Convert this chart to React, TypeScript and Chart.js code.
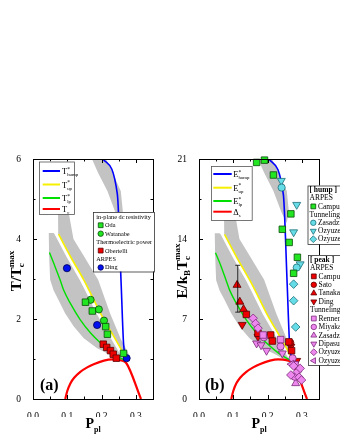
import React, { useEffect, useRef } from "react";
import { Chart, registerables } from "chart.js";
Chart.register(...registerables);

type XY = [number, number];

// ---------- axes ----------
const xTicks = [0, 0.1, 0.2, 0.3];
const xMinorTicks = [0.05, 0.15, 0.25];
const yTicksA = [0, 2, 4, 6];
const yMinorA = [1, 3, 5];
const yTicksB = [0, 7, 14, 21];
const yMinorB = [3.5, 10.5, 17.5];

// ---------- panel (a): T / Tc^max vs P_pl ----------
const tHumpA: XY[] = [[0.204, 6], [0.246, 5.12], [0.257, 2.9], [0.264, 1.4], [0.27, 1.03]];
const tUpA: XY[] = [[0.0745, 4.12], [0.11, 3.55], [0.148, 2.98], [0.163, 2.73], [0.197, 2.14], [0.236, 1.56], [0.261, 1.18], [0.27, 1.02]];
const tLpA: XY[] = [[0.048, 3.66], [0.062, 3.36], [0.079, 2.98], [0.089, 2.73], [0.109, 2.39], [0.138, 1.98], [0.168, 1.65], [0.197, 1.4], [0.23, 1.16], [0.255, 1.02], [0.27, 0.96]];
const tcA: XY[] = [[0.094, 0], [0.1, 0.2], [0.109, 0.39], [0.12, 0.53], [0.138, 0.68], [0.158, 0.79], [0.177, 0.87], [0.207, 0.96], [0.231, 0.99], [0.255, 0.97], [0.272, 0.9], [0.315, 0]];

const humpBandA: XY[] = [[0.172, 6], [0.213, 6], [0.235, 5.6], [0.256, 5.2], [0.262, 4.7], [0.256, 4.4], [0.241, 4.65], [0.217, 5.2], [0.19, 5.65]];
const upBandA: XY[] = [[0.073, 4.62], [0.0735, 4.12], [0.109, 3.55], [0.147, 2.98], [0.162, 2.73], [0.196, 2.14], [0.235, 1.56], [0.26, 1.18], [0.268, 0.98], [0.283, 0.95], [0.278, 1.15], [0.256, 1.5], [0.225, 2.14], [0.19, 2.98], [0.15, 3.55], [0.118, 4.0], [0.105, 4.62]];
const lpBandA: XY[] = [[0.046, 4.15], [0.047, 3.6], [0.05, 2.98], [0.06, 2.72], [0.074, 2.48], [0.094, 2.14], [0.119, 1.81], [0.148, 1.52], [0.187, 1.27], [0.226, 1.1], [0.262, 0.92], [0.275, 0.88], [0.262, 1.0], [0.25, 1.18], [0.224, 1.56], [0.185, 2.14], [0.151, 2.73], [0.136, 2.98], [0.098, 3.55], [0.063, 4.12], [0.06, 4.15]];

const odaA: XY[] = [[0.153, 2.42], [0.173, 2.2], [0.212, 1.81], [0.217, 1.62], [0.264, 1.14]];
const watanabeA: XY[] = [[0.168, 2.48], [0.192, 2.24], [0.207, 1.96]];
const obertelliA: XY[] = [[0.205, 1.37], [0.215, 1.29], [0.226, 1.21], [0.234, 1.12], [0.243, 1.02]];
const dingA: XY[] = [[0.099, 3.27], [0.187, 1.85], [0.273, 1.02]];

// ---------- panel (b): E / kB Tc^max vs P_pl ----------
const eHumpB: XY[] = [[0.204, 21], [0.246, 17.9], [0.257, 10.2], [0.264, 4.9], [0.27, 3.6]];
const eUpB: XY[] = [[0.0745, 14.4], [0.11, 12.4], [0.148, 10.4], [0.163, 9.55], [0.197, 7.5], [0.236, 5.46], [0.261, 4.13], [0.27, 3.57]];
const eLpB: XY[] = [[0.048, 12.8], [0.062, 11.8], [0.079, 10.4], [0.089, 9.55], [0.109, 8.37], [0.138, 6.93], [0.168, 5.78], [0.197, 4.9], [0.23, 4.06], [0.255, 3.57], [0.27, 3.36]];
const deltaB: XY[] = [[0.094, 0], [0.1, 0.7], [0.109, 1.37], [0.12, 1.86], [0.138, 2.38], [0.158, 2.77], [0.177, 3.05], [0.207, 3.36], [0.231, 3.47], [0.255, 3.4], [0.272, 3.15], [0.315, 0]];

const humpBandB: XY[] = [[0.172, 21], [0.213, 21], [0.235, 19.6], [0.256, 18.2], [0.262, 16.45], [0.256, 15.4], [0.241, 16.3], [0.217, 18.2], [0.19, 19.8]];
const upBandB: XY[] = [[0.073, 16.2], [0.0735, 14.4], [0.109, 12.4], [0.147, 10.43], [0.162, 9.55], [0.196, 7.5], [0.235, 5.46], [0.26, 4.13], [0.268, 3.43], [0.283, 3.33], [0.278, 4.0], [0.256, 5.25], [0.225, 7.5], [0.19, 10.43], [0.15, 12.43], [0.118, 14.0], [0.105, 16.2]];
const lpBandB: XY[] = [[0.046, 14.5], [0.047, 12.6], [0.05, 10.4], [0.06, 9.5], [0.074, 8.7], [0.094, 7.5], [0.119, 6.3], [0.148, 5.3], [0.187, 4.45], [0.226, 3.85], [0.262, 3.2], [0.275, 3.1], [0.262, 3.5], [0.25, 4.13], [0.224, 5.46], [0.185, 7.49], [0.151, 9.55], [0.136, 10.43], [0.098, 12.43], [0.063, 14.42], [0.06, 14.5]];

// hump (ARPES / tunneling)
const campHumpB: XY[] = [[0.168, 20.7], [0.191, 20.9], [0.217, 19.6], [0.243, 14.85], [0.263, 13.7], [0.268, 16.2], [0.287, 12.4], [0.276, 11.0]];
const zasHumpB: XY[] = [[0.241, 18.5], [0.285, 11.5]];
const ozyHumpTriB: XY[] = [[0.24, 19.1], [0.285, 17.0], [0.276, 14.6], [0.295, 11.8]];
const ozyHumpDiaB: XY[] = [[0.276, 10.05], [0.276, 8.6], [0.282, 6.3]];
// peak (ARPES / tunneling)
const campPeakB: XY[] = [[0.138, 7.4], [0.172, 5.75], [0.209, 5.6], [0.214, 5.07], [0.27, 4.23], [0.262, 5.0]];
const satoB: XY[] = [[0.266, 4.93]];
const tanakaB: XY[] = [[0.111, 9.97], [0.119, 8.5], [0.13, 7.85]];
const tanakaErrB: [number, number, number][] = [[0.113, 7.6, 11.7]];
const dingPeakB: XY[] = [[0.126, 6.5], [0.172, 5.45], [0.268, 4.6], [0.285, 3.35]];
const rennerB: XY[] = [[0.187, 5.6], [0.238, 5.2], [0.28, 3.0]];
const miyakawaB: XY[] = [[0.189, 5.4], [0.238, 4.6], [0.273, 3.56], [0.279, 1.95]];
const zasPeakB: XY[] = [[0.282, 1.37]];
const dipasupilB: XY[] = [[0.168, 4.87], [0.181, 4.72], [0.197, 4.23], [0.243, 4.0]];
const ozyPeakDiaB: XY[] = [[0.158, 7.06], [0.165, 6.6], [0.172, 6.2], [0.276, 2.89], [0.268, 2.1], [0.287, 2.39], [0.295, 2.68], [0.292, 1.9], [0.299, 1.66]];
const ozyPeakTriB: XY[] = [[0.27, 3.05]];

// ---------- styles ----------
const FONT = '"Liberation Serif", "DejaVu Serif", serif';
const GRAY = "#c3c3c3";
const COL = {
  blue: "#0000ff", yellow: "#f6f000", green: "#00e000", red: "#ff0000",
  gF: "#22e622", gB: "#0a4a0a", rF: "#ee0000", rB: "#5a0000", bF: "#0010ee", bB: "#000050",
  cF: "#66dde6", cB: "#1e6e7a", pF: "#ee88ee", pB: "#7a2a7a",
};

type Shape = "rect" | "circle" | "tri" | "triDown" | "triLeft" | "diamond";

const pts = (a: XY[]) => a.map(([x, y]) => ({ x, y }));

function bandDs(a: XY[]) {
  return { type: "line", data: pts(a), fill: "shape", backgroundColor: GRAY, borderWidth: 0, borderColor: GRAY, pointRadius: 0, tension: 0, order: 30 };
}
function curveDs(a: XY[], color: string, w: number) {
  return { type: "line", data: pts(a), borderColor: color, borderWidth: w, pointRadius: 0, fill: false, tension: 0, cubicInterpolationMode: "monotone", order: 20 };
}
function markDs(a: XY[], shape: Shape, fill: string, stroke: string) {
  const map: Record<Shape, [string, number, number]> = {
    rect: ["rect", 0, 4.6], circle: ["circle", 0, 3.6], tri: ["triangle", 0, 4.6],
    triDown: ["triangle", 180, 4.6], triLeft: ["triangle", 270, 4.6], diamond: ["rectRot", 0, 4.3],
  };
  const [ps, rot, r] = map[shape];
  return { type: "scatter", data: pts(a), pointStyle: ps, rotation: rot, pointRadius: r, backgroundColor: fill, borderColor: stroke, borderWidth: 0.8, showLine: false, order: 10, clip: 8 };
}

function drawMarker(ctx: CanvasRenderingContext2D, shape: Shape, x: number, y: number, r: number, fill: string, stroke: string) {
  ctx.save();
  ctx.beginPath();
  ctx.fillStyle = fill; ctx.strokeStyle = stroke; ctx.lineWidth = 0.8;
  if (shape === "rect") { const s = r * Math.SQRT1_2; ctx.rect(x - s, y - s, 2 * s, 2 * s); }
  else if (shape === "circle") ctx.arc(x, y, r * 0.8, 0, Math.PI * 2);
  else if (shape === "diamond") { ctx.moveTo(x, y - r); ctx.lineTo(x + r, y); ctx.lineTo(x, y + r); ctx.lineTo(x - r, y); ctx.closePath(); }
  else {
    const rot = shape === "tri" ? 0 : shape === "triDown" ? Math.PI : -Math.PI / 2;
    for (let i = 0; i < 3; i++) {
      const a = rot + (i * 2 * Math.PI) / 3;
      const px = x + Math.sin(a) * r, py = y - Math.cos(a) * r;
      if (i) ctx.lineTo(px, py); else ctx.moveTo(px, py);
    }
    ctx.closePath();
  }
  ctx.fill(); ctx.stroke();
  ctx.restore();
}

type Part = { t: string; size: number; dy?: number; bold?: boolean; stack?: boolean };
function layoutRich(ctx: CanvasRenderingContext2D, parts: Part[]) {
  let x = 0, prevStart = 0;
  const items: { p: Part; start: number }[] = [];
  for (const p of parts) {
    ctx.font = `${p.bold ? "bold " : ""}${p.size}px ${FONT}`;
    const w = ctx.measureText(p.t).width;
    const start = p.stack ? prevStart : x;
    items.push({ p, start });
    if (p.stack) x = Math.max(x, start + w);
    else { prevStart = start; x = start + w; }
  }
  return { items, width: x };
}
function drawRich(ctx: CanvasRenderingContext2D, x: number, y: number, parts: Part[], align: "left" | "center" = "left") {
  const { items, width } = layoutRich(ctx, parts);
  const x0 = align === "center" ? x - width / 2 : x;
  ctx.save();
  ctx.textAlign = "left";
  ctx.fillStyle = "#000";
  for (const { p, start } of items) {
    ctx.font = `${p.bold ? "bold " : ""}${p.size}px ${FONT}`;
    ctx.fillText(p.t, x0 + start, y + (p.dy || 0));
  }
  ctx.restore();
}

// legend contents
const lineLegendA = [
  { color: COL.blue, w: 2, base: "T", sup: "*", sub: "hump" },
  { color: COL.yellow, w: 2, base: "T", sup: "*", sub: "up" },
  { color: COL.green, w: 2, base: "T", sup: "*", sub: "lp" },
  { color: COL.red, w: 2, base: "T", sup: "", sub: "c" },
];
const lineLegendB = [
  { color: COL.blue, w: 2, base: "E", sup: "*", sub: "hump" },
  { color: COL.yellow, w: 2, base: "E", sup: "*", sub: "up" },
  { color: COL.green, w: 2, base: "E", sup: "*", sub: "lp" },
  { color: COL.red, w: 2, base: "Δ", sup: "", sub: "s" },
];
type Row = { kind: "head" | "text" | "item"; text: string; shape?: Shape; fill?: string; stroke?: string };
const expLegendA: Row[] = [
  { kind: "text", text: "in-plane dc resistivity" },
  { kind: "item", text: "Oda", shape: "rect", fill: COL.gF, stroke: COL.gB },
  { kind: "item", text: "Watanabe", shape: "circle", fill: COL.gF, stroke: COL.gB },
  { kind: "text", text: "Thermoelectric power" },
  { kind: "item", text: "Obertelli", shape: "rect", fill: COL.rF, stroke: COL.rB },
  { kind: "text", text: "ARPES" },
  { kind: "item", text: "Ding", shape: "circle", fill: COL.bF, stroke: COL.bB },
];
const humpLegendB: Row[] = [
  { kind: "head", text: "[ hump ]" },
  { kind: "text", text: "ARPES" },
  { kind: "item", text: "Campuzano", shape: "rect", fill: COL.gF, stroke: COL.gB },
  { kind: "text", text: "Tunneling" },
  { kind: "item", text: "Zasadzinski", shape: "circle", fill: COL.cF, stroke: COL.cB },
  { kind: "item", text: "Ozyuzer", shape: "triDown", fill: COL.cF, stroke: COL.cB },
  { kind: "item", text: "Ozyuzer", shape: "diamond", fill: COL.cF, stroke: COL.cB },
];
const peakLegendB: Row[] = [
  { kind: "head", text: "[ peak ]" },
  { kind: "text", text: "ARPES" },
  { kind: "item", text: "Campuzano", shape: "rect", fill: COL.rF, stroke: COL.rB },
  { kind: "item", text: "Sato", shape: "circle", fill: COL.rF, stroke: COL.rB },
  { kind: "item", text: "Tanaka", shape: "tri", fill: COL.rF, stroke: COL.rB },
  { kind: "item", text: "Ding", shape: "triDown", fill: COL.rF, stroke: COL.rB },
  { kind: "text", text: "Tunneling" },
  { kind: "item", text: "Renner", shape: "rect", fill: COL.pF, stroke: COL.pB },
  { kind: "item", text: "Miyakawa", shape: "circle", fill: COL.pF, stroke: COL.pB },
  { kind: "item", text: "Zasadzinski", shape: "tri", fill: COL.pF, stroke: COL.pB },
  { kind: "item", text: "Dipasupil", shape: "triDown", fill: COL.pF, stroke: COL.pB },
  { kind: "item", text: "Ozyuzer", shape: "diamond", fill: COL.pF, stroke: COL.pB },
  { kind: "item", text: "Ozyuzer", shape: "triLeft", fill: COL.pF, stroke: COL.pB },
];

type BoxCfg = { rows: Row[]; x1: number; y1: number; x2: number; y2: number; y0: number; dy: number; tx: number; ix: number; lx: number; fs: number };
type LineLegCfg = { items: typeof lineLegendA; x1: number; y1: number; x2: number; y2: number; rowsY: number[]; lx1: number; lx2: number; tx: number };

type PanelCfg = {
  yMax: number; yTicks: number[]; yMinor: number[]; yWidth: number; padRight: number;
  datasets: any[];
  lineLeg: LineLegCfg; boxes: BoxCfg[];
  yTitle: Part[]; yTitleX: number; label: string; labelX: number; xTitleX: number;
  errs?: [number, number, number][];
};

function drawBox(ctx: CanvasRenderingContext2D, b: BoxCfg) {
  ctx.save();
  ctx.fillStyle = "#fff"; ctx.strokeStyle = "#333"; ctx.lineWidth = 0.8;
  ctx.fillRect(b.x1, b.y1, b.x2 - b.x1, b.y2 - b.y1);
  ctx.strokeRect(b.x1 + 0.5, b.y1 + 0.5, b.x2 - b.x1, b.y2 - b.y1);
  ctx.textBaseline = "middle"; ctx.fillStyle = "#000";
  b.rows.forEach((r, i) => {
    const y = b.y0 + i * b.dy;
    if (r.kind === "item") {
      drawMarker(ctx, r.shape!, b.ix, y, 3.4, r.fill!, r.stroke!);
      ctx.font = `${b.fs}px ${FONT}`;
      ctx.fillText(r.text, b.lx, y + 0.3);
    } else {
      ctx.font = `${r.kind === "head" ? "bold " : ""}${b.fs}px ${FONT}`;
      ctx.fillText(r.text, b.tx, y + 0.3);
    }
  });
  ctx.restore();
}

function drawLineLegend(ctx: CanvasRenderingContext2D, l: LineLegCfg) {
  ctx.save();
  ctx.fillStyle = "#fff"; ctx.strokeStyle = "#555"; ctx.lineWidth = 0.8;
  ctx.fillRect(l.x1, l.y1, l.x2 - l.x1, l.y2 - l.y1);
  ctx.strokeRect(l.x1 + 0.5, l.y1 + 0.5, l.x2 - l.x1, l.y2 - l.y1);
  l.items.forEach((it, i) => {
    const y = l.rowsY[i];
    ctx.beginPath(); ctx.strokeStyle = it.color; ctx.lineWidth = it.w;
    ctx.moveTo(l.lx1, y); ctx.lineTo(l.lx2, y); ctx.stroke();
    const parts: Part[] = [{ t: it.base, size: 8.5 }];
    if (it.sup) parts.push({ t: it.sup, size: 5.5, dy: -3.5 });
    parts.push({ t: it.sub, size: 4.8, dy: 2.2, stack: !!it.sup });
    drawRich(ctx, l.tx, y + 3, parts);
  });
  ctx.restore();
}

function overlay(p: PanelCfg) {
  return {
    id: "overlay",
    afterDatasetsDraw(chart: any) {
      const { ctx, chartArea: a, scales } = chart;
      const xs = scales.x, ys = scales.y;
      ctx.save();
      // error bars
      ctx.strokeStyle = "#000"; ctx.lineWidth = 0.8;
      (p.errs || []).forEach(([x, lo, hi]) => {
        const px = xs.getPixelForValue(x), p1 = ys.getPixelForValue(lo), p2 = ys.getPixelForValue(hi);
        ctx.beginPath(); ctx.moveTo(px, p1); ctx.lineTo(px, p2);
        ctx.moveTo(px - 2.5, p1); ctx.lineTo(px + 2.5, p1);
        ctx.moveTo(px - 2.5, p2); ctx.lineTo(px + 2.5, p2); ctx.stroke();
      });
      // frame
      ctx.lineWidth = 1; ctx.strokeStyle = "#000";
      ctx.strokeRect(a.left + 0.5, a.top + 0.5, a.right - a.left, a.bottom - a.top);
      ctx.beginPath();
      const yt = (v: number, len: number) => {
        const py = Math.round(ys.getPixelForValue(v)) + 0.5;
        ctx.moveTo(a.left, py); ctx.lineTo(a.left + len, py);
        ctx.moveTo(a.right, py); ctx.lineTo(a.right - len, py);
      };
      p.yTicks.forEach((v) => yt(v, 4));
      p.yMinor.forEach((v) => yt(v, 2.5));
      const xt = (v: number, len: number) => {
        const px = Math.round(xs.getPixelForValue(v)) + 0.5;
        ctx.moveTo(px, a.bottom); ctx.lineTo(px, a.bottom - len);
        ctx.moveTo(px, a.top); ctx.lineTo(px, a.top + len);
      };
      xTicks.forEach((v) => xt(v, 4));
      xMinorTicks.forEach((v) => xt(v, 2.5));
      ctx.stroke();
      ctx.restore();
    },
    afterDraw(chart: any) {
      const { ctx } = chart;
      drawLineLegend(ctx, p.lineLeg);
      p.boxes.forEach((b) => drawBox(ctx, b));
      // panel label
      ctx.save();
      ctx.fillStyle = "#000"; ctx.font = `bold 16px ${FONT}`; ctx.textBaseline = "alphabetic";
      ctx.fillText(p.label, p.labelX, 390);
      ctx.restore();
      // x title
      drawRich(ctx, p.xTitleX, 428, [{ t: "P", size: 14, bold: true }, { t: "pl", size: 8, bold: true, dy: 3.5 }], "center");
      // y title
      ctx.save();
      ctx.translate(p.yTitleX, 271);
      ctx.rotate(-Math.PI / 2);
      drawRich(ctx, 0, 0, p.yTitle, "center");
      ctx.restore();
    },
  };
}

function makeConfig(p: PanelCfg): any {
  return {
    type: "scatter",
    data: { datasets: p.datasets },
    options: {
      animation: false,
      responsive: false,
      events: [],
      layout: { padding: { left: 0, right: p.padRight, top: 159, bottom: 23 } },
      plugins: { legend: { display: false }, tooltip: { enabled: false } },
      scales: {
        x: {
          type: "linear", min: 0, max: 0.35,
          grid: { display: false }, border: { display: false },
          afterBuildTicks: (ax: any) => { ax.ticks = xTicks.map((v) => ({ value: v })); },
          afterFit: (ax: any) => { ax.height = 18; },
          ticks: { padding: 4, color: "#000", font: { family: FONT, size: 9.5 }, maxRotation: 0, callback: (v: any) => Number(v).toFixed(1) },
        },
        y: {
          type: "linear", min: 0, max: p.yMax,
          grid: { display: false }, border: { display: false },
          afterBuildTicks: (ax: any) => { ax.ticks = p.yTicks.map((v) => ({ value: v })); },
          afterFit: (ax: any) => { ax.width = p.yWidth; },
          ticks: { padding: 4, color: "#000", font: { family: FONT, size: 9.5 }, callback: (v: any) => String(v) },
        },
      },
    },
    plugins: [overlay(p)],
  };
}

const panelA: PanelCfg = {
  yMax: 6, yTicks: yTicksA, yMinor: yMinorA, yWidth: 33, padRight: 17,
  datasets: [
    bandDs(humpBandA), bandDs(upBandA), bandDs(lpBandA),
    curveDs(tHumpA, COL.blue, 1.6), curveDs(tUpA, COL.yellow, 1.6), curveDs(tLpA, COL.green, 1.4), curveDs(tcA, COL.red, 2.2),
    markDs(odaA, "rect", COL.gF, COL.gB), markDs(watanabeA, "circle", COL.gF, COL.gB),
    markDs(obertelliA, "rect", COL.rF, COL.rB), markDs(dingA, "circle", COL.bF, COL.bB),
  ],
  lineLeg: { items: lineLegendA, x1: 39, y1: 161.5, x2: 74, y2: 214, rowsY: [171, 184.5, 198, 209], lx1: 42.7, lx2: 60, tx: 62 },
  boxes: [{ rows: expLegendA, x1: 93, y1: 212, x2: 154, y2: 271.5, y0: 216.8, dy: 8.45, tx: 96.3, ix: 100.7, lx: 105, fs: 6.3 }],
  yTitle: [{ t: "T/T", size: 15, bold: true }, { t: "max", size: 9, bold: true, dy: -6.5 }, { t: "c", size: 9, bold: true, dy: 3, stack: true }],
  yTitleX: 20.5, label: "(a)", labelX: 40, xTitleX: 93,
};

const panelB: PanelCfg = {
  yMax: 21, yTicks: yTicksB, yMinor: yMinorB, yWidth: 29, padRight: 21,
  datasets: [
    bandDs(humpBandB), bandDs(upBandB), bandDs(lpBandB),
    curveDs(eHumpB, COL.blue, 1.6), curveDs(eUpB, COL.yellow, 1.6), curveDs(eLpB, COL.green, 1.4), curveDs(deltaB, COL.red, 2.2),
    markDs(campHumpB, "rect", COL.gF, COL.gB), markDs(zasHumpB, "circle", COL.cF, COL.cB),
    markDs(ozyHumpTriB, "triDown", COL.cF, COL.cB), markDs(ozyHumpDiaB, "diamond", COL.cF, COL.cB),
    markDs(ozyPeakDiaB, "diamond", COL.pF, COL.pB), markDs(ozyPeakTriB, "triLeft", COL.pF, COL.pB),
    markDs(rennerB, "rect", COL.pF, COL.pB), markDs(miyakawaB, "circle", COL.pF, COL.pB),
    markDs(zasPeakB, "tri", COL.pF, COL.pB), markDs(dipasupilB, "triDown", COL.pF, COL.pB),
    markDs(campPeakB, "rect", COL.rF, COL.rB), markDs(satoB, "circle", COL.rF, COL.rB),
    markDs(tanakaB, "tri", COL.rF, COL.rB), markDs(dingPeakB, "triDown", COL.rF, COL.rB),
  ],
  lineLeg: { items: lineLegendB, x1: 41, y1: 166, x2: 81.7, y2: 220, rowsY: [174, 187.7, 201, 211.7], lx1: 43.3, lx2: 61.7, tx: 63.3 },
  boxes: [
    { rows: humpLegendB, x1: 137.5, y1: 185.5, x2: 180, y2: 244, y0: 190, dy: 8.2, tx: 139.5, ix: 143.3, lx: 148, fs: 7.5 },
    { rows: peakLegendB, x1: 138, y1: 255, x2: 180, y2: 365, y0: 259.5, dy: 8.43, tx: 140, ix: 143.8, lx: 148.5, fs: 7.5 },
  ],
  yTitle: [{ t: "E/k", size: 15, bold: true }, { t: "B", size: 9, bold: true, dy: 3 }, { t: "T", size: 15, bold: true }, { t: "max", size: 9, bold: true, dy: -6.5 }, { t: "c", size: 9, bold: true, dy: 3, stack: true }],
  yTitleX: 16.5, label: "(b)", labelX: 35, xTitleX: 89,
  errs: tanakaErrB,
};

export default function App() {
  const refA = useRef<HTMLCanvasElement>(null);
  const refB = useRef<HTMLCanvasElement>(null);
  useEffect(() => {
    const ca = new Chart(refA.current!, makeConfig(panelA));
    const cb = new Chart(refB.current!, makeConfig(panelB));
    return () => { ca.destroy(); cb.destroy(); };
  }, []);
  return (
    <div style={{ position: "fixed", left: 0, top: 0, width: 340, height: 440, background: "#fff", overflow: "hidden" }}>
      <canvas ref={refA} width={170} height={440} style={{ position: "absolute", left: 0, top: 0, width: 170, height: 440 }} />
      <canvas ref={refB} width={170} height={440} style={{ position: "absolute", left: 170, top: 0, width: 170, height: 440 }} />
    </div>
  );
}
